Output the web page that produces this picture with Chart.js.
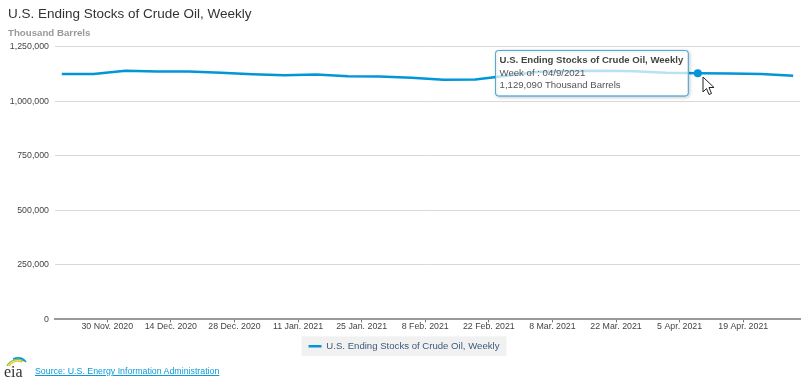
<!DOCTYPE html>
<html>
<head>
<meta charset="utf-8">
<title>U.S. Ending Stocks of Crude Oil, Weekly</title>
<script src="https://cdn.jsdelivr.net/npm/chart.js@4"></script>
<style>
  html, body { margin:0; padding:0; background:#fff; overflow:hidden; }
  #wrap { position:relative; width:811px; height:387px; font-family:"Liberation Sans", Arial, sans-serif; }
  canvas { position:absolute; left:0; top:0; }
  #logo { position:absolute; left:3px; top:357px; }
  #source { position:absolute; left:35px; top:365px; font-size:8.8px; line-height:12px; color:#0b9ad6; text-decoration:underline; }
  #cursor { position:absolute; left:702px; top:76px; }
</style>
</head>
<body>
<div id="wrap">
  <canvas id="chart" width="811" height="387"></canvas>
  <svg id="logo" width="25" height="22" viewBox="0 0 25 22">
    <path d="M4 9 C7 3 14 1 21 4" fill="none" stroke="#8dc63f" stroke-width="1.5"/>
    <path d="M6 9 C9 5 14 3 19 5" fill="none" stroke="#f5c518" stroke-width="1.5"/>
    <path d="M10 2 C15 0 20 1 23 5" fill="none" stroke="#0b9ad6" stroke-width="1.5"/>
    <text x="1" y="20" font-family="Liberation Serif" font-size="16" fill="#333">eia</text>
  </svg>
  <a id="source">Source: U.S. Energy Information Administration</a>
  <svg id="cursor" width="14" height="21" viewBox="0 0 14 21">
    <path d="M1 1 L1 16 L4.5 12.5 L7 18.5 L9.5 17.5 L7 11.5 L12 11.5 Z" fill="#fff" stroke="#222" stroke-width="1"/>
  </svg>
</div>
<script>
// ========== DATA ==========
const seriesName = "U.S. Ending Stocks of Crude Oil, Weekly";
const weeks = [
  "2020-11-20","2020-11-27","2020-12-04","2020-12-11","2020-12-18","2020-12-25",
  "2021-01-01","2021-01-08","2021-01-15","2021-01-22","2021-01-29","2021-02-05",
  "2021-02-12","2021-02-19","2021-02-26","2021-03-05","2021-03-12","2021-03-19",
  "2021-03-26","2021-04-02","2021-04-09","2021-04-16","2021-04-23","2021-04-30"
];
const stocks = [
  1125000,1125000,1140000,1137000,1137000,1131000,
  1124000,1119500,1123000,1115000,1113500,1108000,
  1099000,1100700,1117000,1135600,1138700,1140000,
  1137800,1131000,1129090,1128000,1126000,1117000
];
const tickDates = [
  "2020-11-30","2020-12-14","2020-12-28","2021-01-11","2021-01-25","2021-02-08",
  "2021-02-22","2021-03-08","2021-03-22","2021-04-05","2021-04-19"
];
const tickLabels = [
  "30 Nov. 2020","14 Dec. 2020","28 Dec. 2020","11 Jan. 2021","25 Jan. 2021","8 Feb. 2021",
  "22 Feb. 2021","8 Mar. 2021","22 Mar. 2021","5 Apr. 2021","19 Apr. 2021"
];
const yTicks = [0,250000,500000,750000,1000000,1250000];
const activeIndex = 20;
const tooltipLines = ["Week of : 04/9/2021","1,129,090 Thousand Barrels"];

// ========== HELPERS ==========
const DAY = 86400000;
const dayOf = s => (Date.parse(s) - Date.parse(weeks[0])) / DAY;
const tickDays = tickDates.map(dayOf);
const FONT = '"Liberation Sans", Arial, sans-serif';
const BLUE = "#0096d7";

Chart.Tooltip.positioners.besidePoint = function(items){
  if(!items.length) return false;
  return {x: items[0].element.x - 9.5, y: items[0].element.y};
};

// grey box behind the legend, shadow behind the tooltip
const extras = {
  id:"extras",
  beforeDraw(chart){
    const l = chart.legend, c = chart.ctx;
    const h = l.legendHitBoxes[0];
    c.save();
    c.fillStyle = "#f1f1f1";
    c.fillRect(h.left - 7, h.top - 5, h.width + 14, h.height + 10);
    c.restore();
  },
  beforeTooltipDraw(chart, args){
    const t = args.tooltip, c = chart.ctx;
    c.save();
    c.shadowColor = "rgba(0,0,0,0.45)";
    c.shadowBlur = 3;
    c.shadowOffsetX = 1;
    c.shadowOffsetY = 1;
    c.strokeStyle = "#4fa9d2";
    c.beginPath();
    c.roundRect(t.x, t.y, t.width, t.height, 3);
    c.stroke();
    c.restore();
  }
};

// ========== CHART ==========
const chart = new Chart(document.getElementById("chart"), {
  type:"line",
  data:{
    datasets:[{
      label:seriesName,
      data:weeks.map((w,i)=>({x:dayOf(w), y:stocks[i]})),
      borderColor:BLUE,
      backgroundColor:BLUE,
      borderWidth:2.5,
      tension:0,
      pointRadius:0,
      pointHoverRadius:4,
      pointHoverBorderWidth:0,
      pointHoverBackgroundColor:BLUE
    }]
  },
  plugins:[extras],
  options:{
    responsive:false,
    animation:false,
    events:[],
    layout:{padding:{left:8,right:11,top:6,bottom:26}},
    scales:{
      x:{
        type:"linear",
        min:-1.5,
        max:162.5,
        afterBuildTicks(scale){ scale.ticks = tickDays.map(v=>({value:v})); },
        afterFit(scale){ scale.height = 17; },
        grid:{display:true, drawOnChartArea:false, drawTicks:true, tickLength:3, tickColor:"#777"},
        border:{color:"#999",width:2},
        ticks:{
          autoSkip:false,
          maxRotation:0,
          padding:-1,
          color:"#444",
          font:{family:FONT,size:8.8},
          callback:v=>tickLabels[tickDays.indexOf(v)]
        }
      },
      y:{
        min:0,
        max:1250000,
        afterBuildTicks(scale){ scale.ticks = yTicks.map(v=>({value:v})); },
        afterFit(scale){ scale.width = 47; },
        grid:{color:"#d8d8d8",drawTicks:false},
        border:{display:false},
        ticks:{
          padding:6,
          color:"#444",
          font:{family:FONT,size:8.8},
          callback:v=>v.toLocaleString("en-US")
        }
      }
    },
    plugins:{
      title:{
        display:true,
        text:seriesName,
        align:"start",
        color:"#333",
        font:{family:FONT,size:13.5,weight:"normal"},
        padding:{top:0,bottom:5}
      },
      subtitle:{
        display:true,
        text:"Thousand Barrels",
        align:"start",
        color:"#999",
        font:{family:FONT,size:9.7,weight:"bold"},
        padding:{top:0,bottom:8}
      },
      legend:{
        display:true,
        position:"bottom",
        labels:{
          boxWidth:13,
          boxHeight:0,
          padding:5,
          color:"#3c5a7c",
          font:{family:FONT,size:9.6}
        }
      },
      tooltip:{
        enabled:true,
        position:"besidePoint",
        xAlign:"right",
        yAlign:"center",
        caretSize:0,
        caretPadding:0,
        cornerRadius:3,
        displayColors:false,
        backgroundColor:"rgba(255,255,255,0.72)",
        borderColor:"#4fa9d2",
        borderWidth:1,
        padding:{left:4,right:5,top:4,bottom:4},
        titleColor:"#444",
        bodyColor:"#555",
        titleFont:{family:FONT,size:9.6,weight:"bold",lineHeight:1.3},
        bodyFont:{family:FONT,size:9.6,weight:"normal",lineHeight:1.3},
        titleMarginBottom:0,
        bodySpacing:0,
        animation:false,
        callbacks:{
          title:()=>seriesName,
          label:()=>tooltipLines
        }
      }
    }
  }
});

const active = [{datasetIndex:0,index:activeIndex}];
chart.setActiveElements(active);
chart.tooltip.setActiveElements(active,{x:0,y:0});
chart.update("none");
</script>
</body>
</html>
